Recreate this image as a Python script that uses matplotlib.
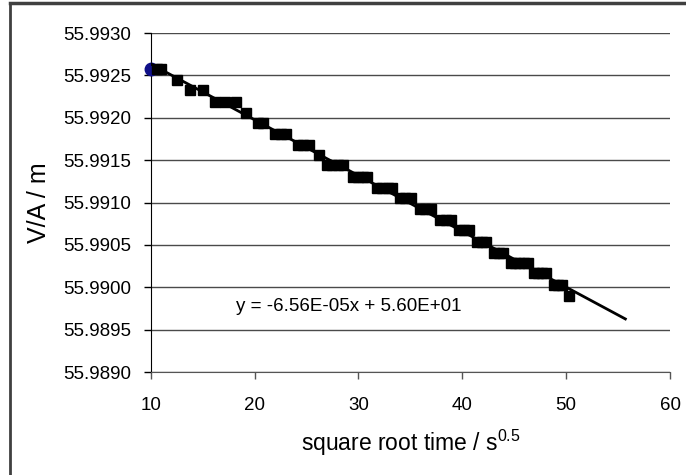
import matplotlib
matplotlib.use("Agg")
import matplotlib.pyplot as plt
import numpy as np
from matplotlib.lines import Line2D

plt.rcParams["font.family"] = ["Liberation Sans", "DejaVu Sans"]
plt.rcParams["mathtext.fontset"] = "custom"
plt.rcParams["mathtext.rm"] = "Liberation Sans"
plt.rcParams["mathtext.it"] = "Liberation Sans"

# data (square root time, V/A)
sqrt_t = [
    10.05, 10.6, 11.0,
    12.5,
    13.75, 15.0,
    16.2, 17.2, 18.2,
    19.2,
    20.3, 20.8,
    22.0, 22.5, 23.0,
    24.2, 24.7, 25.2,
    26.2,
    27.0, 27.5, 28.0, 28.5,
    29.5, 30.0, 30.4, 30.8,
    31.8, 32.3, 32.8, 33.2,
    34.0, 34.5, 35.1,
    35.9, 36.4, 37.0,
    37.9, 38.4, 38.9,
    39.7, 40.2, 40.6,
    41.4, 41.9, 42.3,
    43.1, 43.5, 43.9,
    44.7, 45.1, 45.5, 45.9, 46.3,
    46.9, 47.3, 47.7, 48.1,
    48.8, 49.2, 49.6,
    50.3,
]
va = [
    55.99257, 55.99257, 55.99257,
    55.99245,
    55.99233, 55.99233,
    55.99219, 55.99219, 55.99219,
    55.99206,
    55.99194, 55.99194,
    55.99181, 55.99181, 55.99181,
    55.99168, 55.99168, 55.99168,
    55.99156,
    55.99144, 55.99144, 55.99144, 55.99144,
    55.99130, 55.99130, 55.99130, 55.99130,
    55.99117, 55.99117, 55.99117, 55.99117,
    55.99105, 55.99105, 55.99105,
    55.99092, 55.99092, 55.99092,
    55.99079, 55.99079, 55.99079,
    55.99067, 55.99067, 55.99067,
    55.99053, 55.99053, 55.99053,
    55.99041, 55.99041, 55.99041,
    55.99029, 55.99029, 55.99029, 55.99029, 55.99029,
    55.99017, 55.99017, 55.99017, 55.99017,
    55.99003, 55.99003, 55.99003,
    55.98990,
]
trend_end = 55.7  # trendline forecast end
eq_text = "y = -6.56E-05x + 5.60E+01"
yticks = [55.9890, 55.9895, 55.9900, 55.9905, 55.9910, 55.9915, 55.9920, 55.9925, 55.9930]
xticks = [10, 20, 30, 40, 50, 60]

x = np.array(sqrt_t)
y = np.array(va)

fig = plt.figure(figsize=(6.86, 4.75), dpi=100)
ax = fig.add_axes([0.2197, 0.2168, 0.757, 0.7137])

# grid lines
for yt in yticks:
    ax.axhline(yt, color="#4a4a4a", lw=1.0, zorder=1)

# data
ax.plot(x, y, ls="none", marker="o", ms=3, color="#000080", zorder=3)
ax.plot(x[:1], y[:1], ls="none", marker="o", ms=9, color="#101088",
        zorder=3.5, clip_on=False)
ax.plot(x[1:], y[1:], ls="none", marker="s", ms=7, color="black", zorder=4)

# linear trendline
k, b = np.polyfit(x, y, 1)
xt = np.array([x.min(), trend_end])
ax.plot(xt, k * xt + b, color="black", lw=2, zorder=6)

ax.text(18.2, 55.98977, eq_text, fontsize=13.5, ha="left", va="center")

ax.set_xlim(10, 60)
ax.set_ylim(55.9890, 55.9930)
ax.set_xticks(xticks)
ax.set_yticks(yticks)
ax.set_yticklabels(["%.4f" % v for v in yticks])
ax.tick_params(axis="y", direction="out", length=5, width=1, colors="black",
               labelsize=13.5, pad=9)
ax.tick_params(axis="x", direction="out", length=5, width=1, color="#555555",
               labelcolor="black", labelsize=13.5, pad=13)
for s in ["top", "right"]:
    ax.spines[s].set_visible(False)
ax.spines["left"].set_color("black")
ax.spines["bottom"].set_color("#555555")

ax.set_xlabel(r"square root time / s$^{\mathregular{0.5}}$", fontsize=16.5, labelpad=10)
ax.set_ylabel("V/A / m", fontsize=18, labelpad=9)

# outer chart border (cropped at right and bottom)
fig.add_artist(Line2D([10 / 686, 10 / 686], [0, 1 - 2.5 / 475],
                      transform=fig.transFigure, color="#404040", lw=2))
fig.add_artist(Line2D([10 / 686, 1], [1 - 2.5 / 475, 1 - 2.5 / 475],
                      transform=fig.transFigure, color="#404040", lw=2.5))

fig.savefig("out.png", dpi=100)
